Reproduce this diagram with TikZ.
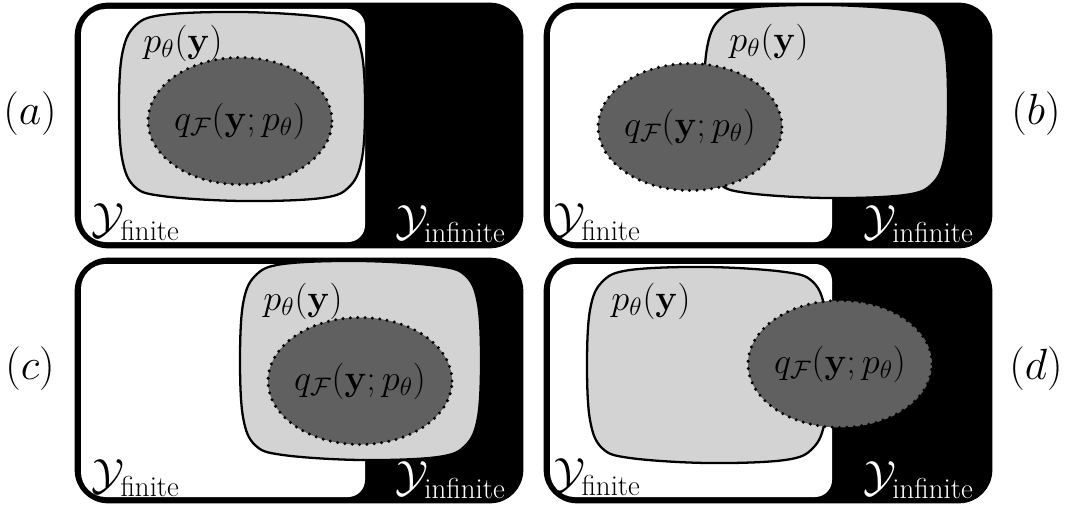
\documentclass[tikz,border=0pt]{standalone}
\usepackage{amsmath}
\usetikzlibrary{shapes.geometric}
\definecolor{plight}{RGB}{211,211,211}
\definecolor{qdark}{RGB}{96,96,96}
% rounded, slightly wavy blob: x1 y1 x2 y2
\newcommand{\blobpath}[4]{%
plot[smooth cycle, tension=0.6] coordinates {
({#1+40},{#2}) ({#1+(#3-#1)*0.5},{#2-3}) ({#3-40},{#2+2}) ({#3-12},{#2+12})
({#3},{#2+40}) ({#3+3},{#2+(#4-#2)*0.5}) ({#3},{#4-40}) ({#3-12},{#4-12})
({#3-40},{#4}) ({#1+(#3-#1)*0.5},{#4+3}) ({#1+40},{#4-2}) ({#1+12},{#4-12})
({#1},{#4-40}) ({#1-3},{#2+(#4-#2)*0.5}) ({#1},{#2+40}) ({#1+12},{#2+12})}}
\begin{document}
\begin{tikzpicture}[x=0.02cm,y=-0.02cm,
  outerbox/.style={fill=black, draw=black, line width=3.8pt, rounded corners=0.6cm},
  pblob/.style={fill=plight, draw=black, line width=1.3pt},
  qell/.style={ellipse, fill=qdark, draw=black, line width=1.9pt, dash pattern=on 0pt off 4.2pt, line cap=round, minimum width=3.68cm, minimum height=2.54cm, inner sep=0pt},
  lbl/.style={font=\fontsize{22}{26}\selectfont, inner sep=0pt},
  ylbl/.style={font=\fontsize{23.5}{28}\selectfont, inner sep=0pt},
  plbl/.style={font=\fontsize{24}{28}\selectfont, inner sep=0pt}]
\useasboundingbox (0,0) rectangle (1071,510);
% ---------- (a)
\draw[outerbox] (78,6) rectangle (520,245);
\fill[white] (220,9) [rounded corners=0.34cm] -- (365,9) -- (365,242) [rounded corners=0.5cm] -- (81,242) -- (81,9) -- cycle;
\path[pblob] \blobpath{122}{15}{362}{198};
\node[qell] (qa) at (240,121) {};
\node[lbl] (qta) at (qa.center) {$q_{\mathcal{F}}(\mathbf{y};p_\theta)$};
\node[lbl] (pa) at (183,43) {$p_\theta(\mathbf{y})$};
\node[ylbl, anchor=west] (fa) at (91,222) {$\mathcal{Y}_{\text{finite}}$};
\node[ylbl, anchor=east, text=white] (ia) at (506,224) {$\mathcal{Y}_{\text{infinite}}$};
\node[plbl] (la) at (30,114) {$(a)$};
% ---------- (b)
\draw[outerbox] (547,6) rectangle (989,245);
\fill[white] (690,9) [rounded corners=0.34cm] -- (832,9) -- (832,242) [rounded corners=0.5cm] -- (550,242) -- (550,9) -- cycle;
\path[pblob] \blobpath{707}{8}{945}{195};
\node[qell] (qb) at (690,127) {};
\node[lbl] (qtb) at (qb.center) {$q_{\mathcal{F}}(\mathbf{y};p_\theta)$};
\node[lbl] (pb) at (769,42) {$p_\theta(\mathbf{y})$};
\node[ylbl, anchor=west] (fb) at (552,222) {$\mathcal{Y}_{\text{finite}}$};
\node[ylbl, anchor=east, text=white] (ib) at (974,224) {$\mathcal{Y}_{\text{infinite}}$};
\node[plbl] (lb) at (1036,114) {$(b)$};
% ---------- (c)
\draw[outerbox] (78,261) rectangle (520,500);
\fill[white] (220,264) [rounded corners=0.34cm] -- (365,264) -- (365,497) [rounded corners=0.5cm] -- (81,497) -- (81,264) -- cycle;
\path[pblob] \blobpath{243}{264}{478}{457};
\node[qell] (qc) at (360,381) {};
\node[lbl] (qtc) at (qc.center) {$q_{\mathcal{F}}(\mathbf{y};p_\theta)$};
\node[lbl] (pc) at (303,301) {$p_\theta(\mathbf{y})$};
\node[ylbl, anchor=west] (fc) at (91,478) {$\mathcal{Y}_{\text{finite}}$};
\node[ylbl, anchor=east, text=white] (ic) at (506,480) {$\mathcal{Y}_{\text{infinite}}$};
\node[plbl] (lc) at (30,369) {$(c)$};
% ---------- (d)
\draw[outerbox] (547,261) rectangle (989,500);
\fill[white] (690,264) [rounded corners=0.34cm] -- (832,264) -- (832,497) [rounded corners=0.5cm] -- (550,497) -- (550,264) -- cycle;
\path[pblob] \blobpath{590}{270}{825}{460};
\node[qell] (qd) at (840,364) {};
\node[lbl] (qtd) at (qd.center) {$q_{\mathcal{F}}(\mathbf{y};p_\theta)$};
\node[lbl] (pd) at (651,301) {$p_\theta(\mathbf{y})$};
\node[ylbl, anchor=west] (fd) at (552,477) {$\mathcal{Y}_{\text{finite}}$};
\node[ylbl, anchor=east, text=white] (id) at (974,480) {$\mathcal{Y}_{\text{infinite}}$};
\node[plbl] (ld) at (1036,369) {$(d)$};
\end{tikzpicture}
\end{document}
